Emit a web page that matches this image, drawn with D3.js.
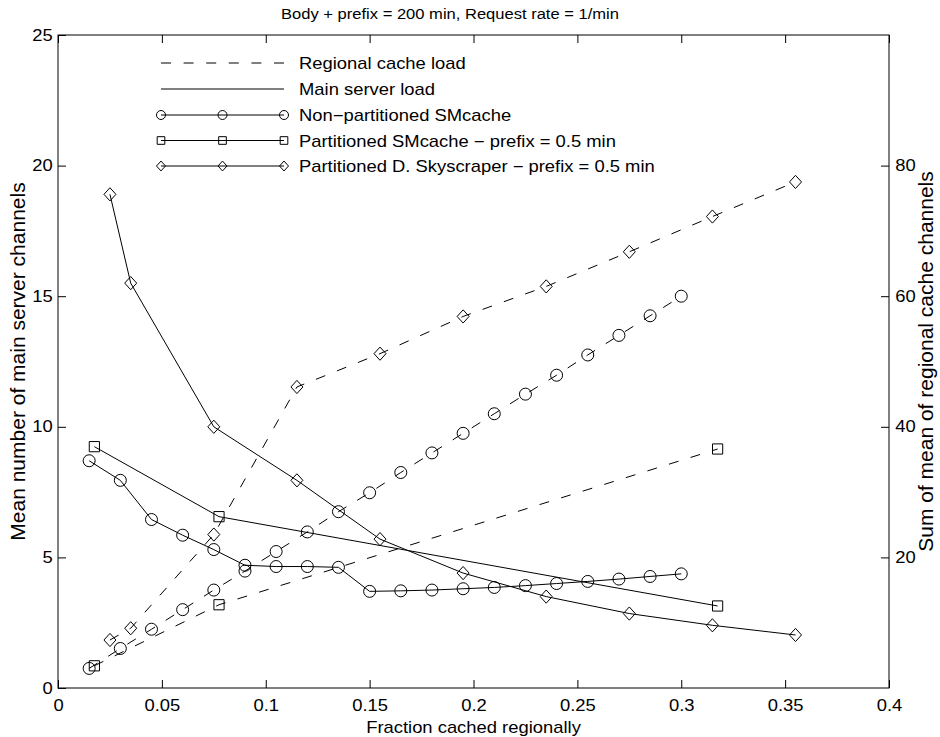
<!DOCTYPE html>
<html>
<head>
<meta charset="utf-8">
<script src="https://cdnjs.cloudflare.com/ajax/libs/d3/7.8.5/d3.min.js"></script>
<style>
body { margin: 0; background: #fff; }
svg { font-family: "Liberation Sans", Arial, Helvetica, sans-serif; }
.axis path { display: none; }
.axis line { stroke: #000; stroke-width: 1; }
.axis text { fill: #000; font-size: 16px; }
</style>
</head>
<body>
<svg id="chart" width="940" height="737"></svg>
<script>
// axis ticks
var xTicks = [0, 0.05, 0.1, 0.15, 0.2, 0.25, 0.3, 0.35, 0.4];
var xTickLabels = ["0", "0.05", "0.1", "0.15", "0.2", "0.25", "0.3", "0.35", "0.4"];
var yTicks = [0, 5, 10, 15, 20, 25];
var yTickLabels = ["0", "5", "10", "15", "20", "25"];
var y2Ticks = [20, 40, 60, 80];
var y2TickLabels = ["20", "40", "60", "80"];

// Non-partitioned SMcache
var npX = [0.015, 0.03, 0.045, 0.06, 0.075, 0.09, 0.105, 0.12, 0.135, 0.15,
           0.165, 0.18, 0.195, 0.21, 0.225, 0.24, 0.255, 0.27, 0.285, 0.30];
var npMain = [8.7, 7.95, 6.45, 5.85, 5.3, 4.7, 4.65, 4.65, 4.62, 3.7,
              3.72, 3.75, 3.8, 3.85, 3.92, 4.0, 4.08, 4.17, 4.27, 4.37];
var npRegional = [3.0, 6.05, 9.0, 12.0, 15.0, 17.9, 20.9, 23.9, 27.0, 29.9,
                  33.0, 36.0, 39.0, 42.0, 45.0, 47.9, 51.0, 54.0, 57.0, 60.0];

// Partitioned SMcache - prefix = 0.5 min
var pX = [0.0175, 0.0775, 0.3175];
var pMain = [9.24, 6.56, 3.14];
var pRegional = [3.4, 12.75, 36.6];

// Partitioned D. Skyscraper - prefix = 0.5 min
var dX = [0.025, 0.035, 0.075, 0.115, 0.155, 0.195, 0.235, 0.275, 0.315, 0.355];
var dMain = [18.9, 15.5, 10.0, 7.95, 5.7, 4.4, 3.5, 2.85, 2.4, 2.03];
var dRegional = [7.35, 9.15, 23.5, 46.1, 51.2, 56.9, 61.5, 66.8, 72.2, 77.5];

var legendLabels = [
    "Regional cache load",
    "Main server load",
    "Non\u2212partitioned SMcache",
    "Partitioned SMcache \u2212 prefix = 0.5 min",
    "Partitioned D. Skyscraper \u2212 prefix = 0.5 min"
];

var margin = { left: 58, right: 51, top: 35, bottom: 49 };
var width = 940 - margin.left - margin.right;
var height = 737 - margin.top - margin.bottom;
var stretch = 1.15;   // the exported figure text is a bit wider than tall
var dash = "10,12.6";

var svg = d3.select("#chart");
var g = svg.append("g").attr("transform", "translate(" + margin.left + "," + margin.top + ")");

var x = d3.scaleLinear().domain([0, 0.4]).range([0, width]);
var y = d3.scaleLinear().domain([0, 25]).range([height, 0]);
var y2 = d3.scaleLinear().domain([0, 100]).range([height, 0]);

// axes, MATLAB style: ticks pointing inwards
g.append("g").attr("class", "axis")
    .attr("transform", "translate(0," + height + ")")
    .call(d3.axisBottom(x).tickValues(xTicks).tickSizeInner(-8).tickSizeOuter(0).tickPadding(12)
        .tickFormat(function (d, i) { return xTickLabels[i]; }))
    .selectAll("text").attr("transform", "scale(" + stretch + ",1)");

g.append("g").attr("class", "axis")
    .call(d3.axisTop(x).tickValues(xTicks).tickSizeInner(-8).tickSizeOuter(0).tickFormat(""));

g.append("g").attr("class", "axis")
    .call(d3.axisLeft(y).tickValues(yTicks).tickSizeInner(-8).tickSizeOuter(0).tickPadding(4.5)
        .tickFormat(function (d, i) { return yTickLabels[i]; }))
    .selectAll("text").attr("transform", "scale(" + stretch + ",1)");

g.append("g").attr("class", "axis")
    .attr("transform", "translate(" + width + ",0)")
    .call(d3.axisRight(y2).tickValues(y2Ticks).tickSizeInner(-8).tickSizeOuter(0).tickPadding(5.5)
        .tickFormat(function (d, i) { return y2TickLabels[i]; }))
    .selectAll("text").attr("transform", "scale(" + stretch + ",1)");

g.append("rect")
    .attr("width", width).attr("height", height)
    .attr("fill", "none").attr("stroke", "#000").attr("stroke-width", 1);

// labels
svg.append("text")
    .attr("transform", "translate(450,19) scale(" + stretch + ",1)")
    .attr("text-anchor", "middle").style("font-size", "14.4px")
    .text("Body + prefix = 200 min, Request rate = 1/min");

svg.append("text")
    .attr("transform", "translate(" + (margin.left + width / 2) + ",733) scale(" + stretch + ",1)")
    .attr("text-anchor", "middle").style("font-size", "16px")
    .text("Fraction cached regionally");

svg.append("text")
    .attr("transform", "translate(25," + (margin.top + height / 2) + ") rotate(-90)")
    .attr("text-anchor", "middle").style("font-size", "21px")
    .text("Mean number of main server channels");

svg.append("text")
    .attr("transform", "translate(933," + (margin.top + height / 2) + ") rotate(-90)")
    .attr("text-anchor", "middle").style("font-size", "21px")
    .text("Sum of mean of regional cache channels");

function markerPath(shape, cx, cy, r) {
    var p = d3.path();
    if (shape === "circle") {
        p.moveTo(cx + r, cy);
        p.arc(cx, cy, r, 0, 2 * Math.PI);
    } else if (shape === "square") {
        p.rect(cx - r * 0.85, cy - r * 0.85, r * 1.7, r * 1.7);
    } else {
        p.moveTo(cx, cy - r * 1.1);
        p.lineTo(cx + r, cy);
        p.lineTo(cx, cy + r * 1.1);
        p.lineTo(cx - r, cy);
        p.closePath();
    }
    return p.toString();
}

var series = [
    { xs: npX, main: npMain, regional: npRegional, shape: "circle" },
    { xs: pX, main: pMain, regional: pRegional, shape: "square" },
    { xs: dX, main: dMain, regional: dRegional, shape: "diamond" }
];

var lineMain = d3.line().x(function (d) { return x(d.x); }).y(function (d) { return y(d.v); });
var lineRegional = d3.line().x(function (d) { return x(d.x); }).y(function (d) { return y2(d.v); });

series.forEach(function (s) {
    var mainPts = s.xs.map(function (xv, i) { return { x: xv, v: s.main[i] }; });
    var regPts = s.xs.map(function (xv, i) { return { x: xv, v: s.regional[i] }; });

    g.append("path").attr("d", lineRegional(regPts))
        .attr("fill", "none").attr("stroke", "#000").attr("stroke-dasharray", dash);
    g.append("path").attr("d", lineMain(mainPts))
        .attr("fill", "none").attr("stroke", "#000");

    g.append("g").selectAll("path").data(regPts).join("path")
        .attr("d", function (d) { return markerPath(s.shape, x(d.x), y2(d.v), 6); })
        .attr("fill", "none").attr("stroke", "#000");
    g.append("g").selectAll("path").data(mainPts).join("path")
        .attr("d", function (d) { return markerPath(s.shape, x(d.x), y(d.v), 6); })
        .attr("fill", "none").attr("stroke", "#000");
});

// legend
var legendRows = [63, 89, 115, 140.5, 166];
var legendShapes = [null, null, "circle", "square", "diamond"];
var lx0 = 161, lx1 = 284;
var legend = svg.append("g");
legendLabels.forEach(function (label, i) {
    var ry = legendRows[i];
    legend.append("line")
        .attr("x1", lx0).attr("x2", lx1).attr("y1", ry).attr("y2", ry)
        .attr("stroke", "#000")
        .attr("stroke-dasharray", i === 0 ? dash : null);
    if (legendShapes[i]) {
        [lx0, (lx0 + lx1) / 2, lx1].forEach(function (mx) {
            legend.append("path")
                .attr("d", markerPath(legendShapes[i], mx, ry, 4.5))
                .attr("fill", "none").attr("stroke", "#000");
        });
    }
    legend.append("text")
        .attr("transform", "translate(299," + (ry + 6) + ") scale(" + stretch + ",1)")
        .style("font-size", "16px")
        .text(label);
});
</script>
</body>
</html>
